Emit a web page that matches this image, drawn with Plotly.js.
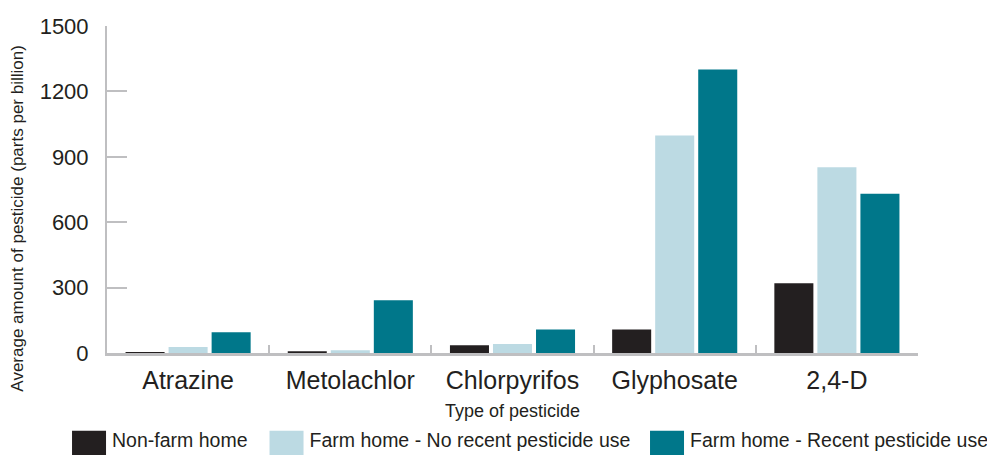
<!DOCTYPE html>
<html>
<head>
<meta charset="utf-8">
<script src="https://cdn.plot.ly/plotly-3.0.1.min.js"></script>
<style>html,body{margin:0;padding:0;background:#fff;}#chart{width:987px;height:455px;}</style>
</head>
<body>
<div id="chart"></div>
<script>
var categories = ["Atrazine", "Metolachlor", "Chlorpyrifos", "Glyphosate", "2,4-D"];
var nonFarm = [5, 8, 35, 108, 320];
var farmNoRecent = [27, 13, 41, 998, 852];
var farmRecent = [95, 242, 108, 1301, 730];
var seriesNames = ["Non-farm home", "Farm home - No recent pesticide use", "Farm home - Recent pesticide use"];
var yTicks = [0, 300, 600, 900, 1200, 1500];
var yTitle = "Average amount of pesticide (parts per billion)";
var xTitle = "Type of pesticide";

var colors = ["#231f20", "#bcdae3", "#00778a"];
var legendIds = ["legend", "legend2", "legend3"];
var legendX = [0.0669, 0.267, 0.6525];
var axisGray = "#bfbfc1";
var txt = "#231f20";

var traces = [nonFarm, farmNoRecent, farmRecent].map(function (vals, i) {
  return {
    type: "bar",
    x: categories,
    y: vals,
    name: seriesNames[i],
    legend: legendIds[i],
    marker: {color: colors[i], line: {width: 0}},
    hoverinfo: "x+y"
  };
});

var layout = {
  width: 987,
  height: 455,
  margin: {l: 107, r: 69, t: 26, b: 102, autoexpand: false},
  paper_bgcolor: "#fff",
  plot_bgcolor: "#fff",
  barmode: "group",
  bargap: 0.204,
  bargroupgap: 0.093,
  font: {family: "Liberation Sans, Arial, sans-serif", color: txt},
  xaxis: {
    type: "category",
    showline: true,
    linecolor: axisGray,
    linewidth: 3,
    ticks: "inside",
    tickson: "boundaries",
    ticklen: 8,
    tickwidth: 2,
    tickcolor: axisGray,
    showgrid: false,
    tickangle: 0,
    tickfont: {size: 25, color: txt},
    ticklabelstandoff: 3,
    automargin: false
  },
  yaxis: {
    range: [0, 1500],
    tickvals: yTicks,
    ticktext: yTicks.map(String),
    showline: true,
    linecolor: axisGray,
    linewidth: 2,
    ticks: "inside",
    ticklen: 20,
    tickwidth: 2,
    tickcolor: axisGray,
    showgrid: false,
    zeroline: false,
    tickfont: {size: 22, color: txt},
    ticklabelstandoff: 12,
    automargin: false
  },
  annotations: [{
    text: yTitle,
    xref: "paper",
    yref: "paper",
    x: -0.1097,
    y: 0.411,
    xanchor: "center",
    yanchor: "middle",
    textangle: -90,
    showarrow: false,
    font: {size: 17, color: txt}
  }, {
    text: xTitle,
    xref: "paper",
    yref: "paper",
    x: 0.5,
    y: -0.1774,
    xanchor: "center",
    yanchor: "middle",
    showarrow: false,
    font: {size: 18, color: txt}
  }],
  showlegend: true
};

legendIds.forEach(function (id, i) {
  layout[id] = {
    orientation: "h",
    xref: "container",
    yref: "container",
    x: legendX[i],
    xanchor: "left",
    y: 0.033,
    yanchor: "middle",
    font: {size: 19.5, color: txt},
    itemwidth: 36,
    bgcolor: "rgba(0,0,0,0)",
    itemclick: false,
    itemdoubleclick: false
  };
});

Plotly.newPlot("chart", traces, layout, {displayModeBar: false, staticPlot: true}).then(function (gd) {
  var paths = gd.querySelectorAll(".legendpoints path");
  paths.forEach(function (p) {
    p.setAttribute("d", "M-17,-9H17V16H-17Z");
  });
});
</script>
</body>
</html>
